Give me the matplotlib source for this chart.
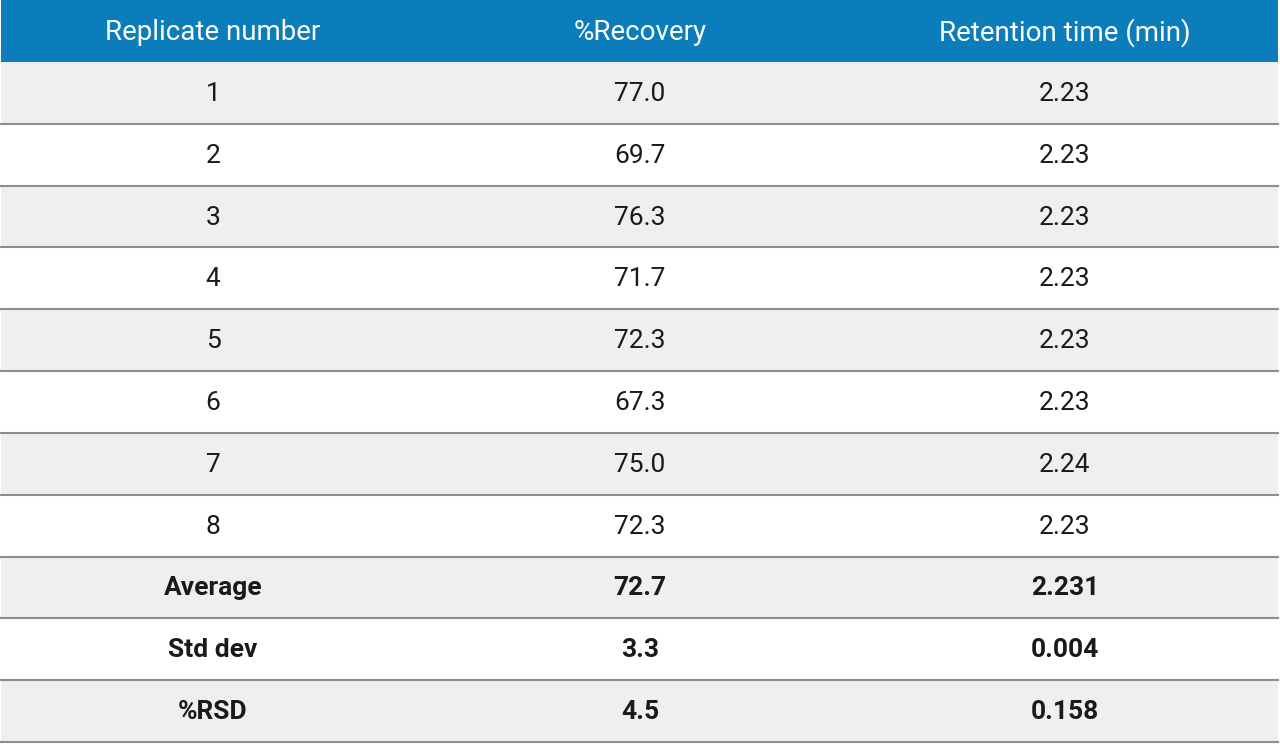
import matplotlib.pyplot as plt
from matplotlib.patches import Rectangle

headers = ["Replicate number", "%Recovery", "Retention time (min)"]
replicates = ["1", "2", "3", "4", "5", "6", "7", "8", "Average", "Std dev", "%RSD"]
recovery = ["77.0", "69.7", "76.3", "71.7", "72.3", "67.3", "75.0", "72.3", "72.7", "3.3", "4.5"]
retention = ["2.23", "2.23", "2.23", "2.23", "2.23", "2.23", "2.24", "2.23", "2.231", "0.004", "0.158"]
bold_rows = {8, 9, 10}

W, H = 1280, 744
fig = plt.figure(figsize=(12.8, 7.44), dpi=100)
ax = fig.add_axes([0, 0, 1, 1])
ax.set_xlim(0, W)
ax.set_ylim(H, 0)
ax.axis("off")

col_x = [213, 640, 1065]
left, right = 1, 1278
head_h = 62
row_h = (742 - head_h) / len(replicates)

ax.add_patch(Rectangle((left, 0), right - left, head_h, color="#0A7DBA", lw=0))
for x, h in zip(col_x, headers):
    ax.text(x, head_h / 2 + 2, h, ha="center", va="center", color="white",
            fontsize=20, family="Roboto")

for i, cells in enumerate(zip(replicates, recovery, retention)):
    y0 = head_h + i * row_h
    fc = "#EFEEF0" if i % 2 == 0 else "white"
    ax.add_patch(Rectangle((left, y0), right - left, row_h, color=fc, lw=0))
    ax.plot([left, right], [y0 + row_h, y0 + row_h], color="#8E8E8E", lw=1.5)
    for x, t in zip(col_x, cells):
        ax.text(x, y0 + row_h / 2 + 1, t, ha="center", va="center", color="#1A1A1A",
                fontsize=19, family="Roboto",
                fontweight="bold" if i in bold_rows else "normal")

fig.savefig("out.png", dpi=100)
